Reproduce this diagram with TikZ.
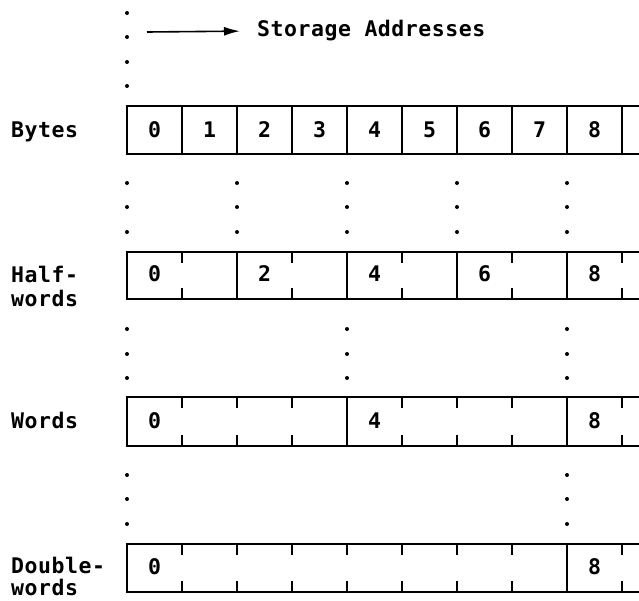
\documentclass[tikz,border=0pt]{standalone}
\usepackage{fontspec}
\newfontfamily\mono{DejaVu Sans Mono Bold}[LetterSpace=2.5]
\usetikzlibrary{arrows.meta}
\begin{document}
\begin{tikzpicture}[x=1pt,y=-1pt,
  txt/.style={font=\mono\fontsize{21.5}{26}\selectfont, inner sep=0pt},
  num/.style={txt, anchor=base},
  lbl/.style={txt, anchor=base west},
  frame/.style={line width=1.8pt},
  divider/.style={line width=1.4pt},
  dotmark/.style={fill=black, draw=none}]
\useasboundingbox (0,0) rectangle (639,600);

% storage address direction
\coordinate (astart) at (147,32);
\node[txt, anchor=west, inner sep=3pt] (addr) at (254,31) {Storage Addresses};
\draw[line width=1.6pt, -{Latex[length=16pt,width=9pt]}, shorten >=14pt] (astart) -- (addr.west);

% row labels
\node[lbl] (lbytes) at (11,137) {Bytes};
\node[lbl] (lhalf1) at (11,282) {Half-};
\node[lbl] (lhalf2) at (11,306) {words};
\node[lbl] (lword) at (11,428) {Words};
\node[lbl] (ldbl1) at (11,573) {Double-};
\node[lbl] (ldbl2) at (11,595) {words};

% rows: top / bottom / boundary spacing (in bytes)
\foreach \top/\bot/\full in {106/154/1, 252/299/2, 397/446/4, 544/592/8}{
  \draw[frame] (639,\top) -- (127,\top) -- (127,\bot) -- (639,\bot);
  \foreach \k in {1,...,9}{
    \pgfmathsetmacro{\xx}{127+55*\k}
    \pgfmathtruncatemacro{\rem}{mod(\k,\full)}
    \ifnum\rem=0
      \draw[divider] (\xx,\top) -- (\xx,\bot);
    \else
      \draw[divider] (\xx,\top) -- (\xx,\top+11);
      \draw[divider] (\xx,\bot-11) -- (\xx,\bot);
    \fi
  }
}

% byte addresses
\foreach \k in {0,...,8}{
  \node[num] (b\k) at ({127+55*\k+27.5},137) {\k};
}
% halfword addresses
\foreach \k in {0,2,4,6,8}{
  \node[num] (h\k) at ({127+55*\k+27.5},281) {\k};
}
% word addresses
\foreach \k in {0,4,8}{
  \node[num] (w\k) at ({127+55*\k+27.5},428) {\k};
}
% doubleword addresses
\foreach \k in {0,8}{
  \node[num] (d\k) at ({127+55*\k+27.5},574) {\k};
}

% continuation dots
\foreach \y in {13,37,62,86}{
  \fill[dotmark] (127,\y) circle (2pt);
}
\foreach \x in {127,237,347,457,567}{
  \foreach \y in {183,207,232}{
    \fill[dotmark] (\x,\y) circle (2pt);
  }
}
\foreach \x in {127,347,567}{
  \foreach \y in {329,354,378}{
    \fill[dotmark] (\x,\y) circle (2pt);
  }
}
\foreach \x in {127,567}{
  \foreach \y in {475,499,524}{
    \fill[dotmark] (\x,\y) circle (2pt);
  }
}
\end{tikzpicture}
\end{document}
